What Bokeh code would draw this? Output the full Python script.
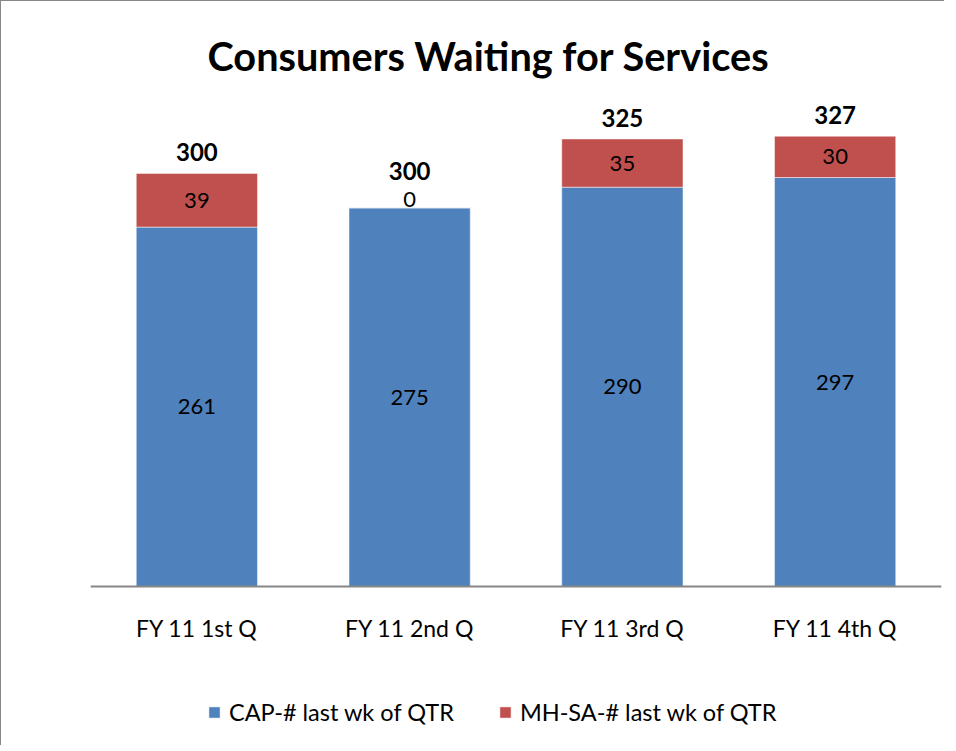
from bokeh.plotting import figure
from bokeh.models import ColumnDataSource, Legend, LegendItem, Range1d, FactorRange
from bokeh.core.properties import value
from bokeh.embed import file_html
from bokeh.resources import INLINE

# ---- data ----
categories = ["FY 11 1st Q", "FY 11 2nd Q", "FY 11 3rd Q", "FY 11 4th Q"]
cap = [261, 275, 290, 297]
mhsa = [39, 0, 35, 30]
total_labels = ["300", "300", "325", "327"]
series_names = ["CAP-# last wk of QTR", "MH-SA-# last wk of QTR"]
colors = ["#4F81BD", "#C0504D"]

FONT = "Lato"

top = [c + m for c, m in zip(cap, mhsa)]
src = ColumnDataSource(dict(
    x=categories,
    cap=cap,
    mhsa=mhsa,
    cap_mid=[c / 2 for c in cap],
    mh_mid=[c + m / 2 for c, m in zip(cap, mhsa)],
    top=top,
    cap_txt=[str(v) for v in cap],
    mh_txt=[str(v) for v in mhsa],
    tot_txt=total_labels,
    # a zero-height segment label is nudged up, and the total is pushed above it
    mh_off=[-8 if m == 0 else 0 for m in mhsa],
    tot_off=[-28 if m == 0 else -12 for m in mhsa],
))

p = figure(
    x_range=FactorRange(*categories),
    y_range=Range1d(-116, 350),
    width=944, height=745,
    output_backend="svg", toolbar_location=None,
    min_border_left=89, min_border_right=4,
    min_border_top=103, min_border_bottom=0,
)
p.styles = {"border-top": "1px solid #878787", "border-left": "1px solid #878787"}

p.title.text = "Consumers Waiting for Services"
p.title.text_font = FONT
p.title.text_font_style = "bold"
p.title.text_font_size = "39.7px"
p.title.text_color = "black"
p.title.align = "left"
p.title.offset = 117
p.title.standoff = 51

r1 = p.vbar(x="x", bottom=0, top="cap", width=0.57, source=src,
            fill_color=colors[0], line_color="white", line_alpha=0.5, line_width=1)
r2 = p.vbar(x="x", bottom="cap", top="top", width=0.57, source=src,
            fill_color=colors[1], line_color="white", line_alpha=0.5, line_width=1)

p.text(x="x", y="cap_mid", text="cap_txt", source=src, text_align="center",
       text_baseline="middle", text_font=value(FONT), text_font_size="22px", text_color="black")
p.text(x="x", y="mh_mid", text="mh_txt", source=src, text_align="center", y_offset="mh_off",
       text_baseline="middle", text_font=value(FONT), text_font_size="22px", text_color="black")
p.text(x="x", y="top", text="tot_txt", source=src, text_align="center", y_offset="tot_off",
       text_baseline="bottom", text_font=value(FONT), text_font_size="24px",
       text_font_style="bold", text_color="black")

p.yaxis.visible = False
p.xgrid.grid_line_color = None
p.ygrid.grid_line_color = None
p.outline_line_color = None

xa = p.xaxis[0]
xa.fixed_location = 0
xa.axis_line_color = "#868686"
xa.axis_line_width = 2
xa.major_tick_line_color = None
xa.minor_tick_line_color = None
xa.major_label_standoff = 21
xa.major_label_text_font = FONT
xa.major_label_text_font_size = "23px"
xa.major_label_text_color = "black"

legend = Legend(items=[LegendItem(label=series_names[0], renderers=[r1]),
                       LegendItem(label=series_names[1], renderers=[r2])],
                orientation="horizontal", location=(117, 20))
legend.label_text_font = FONT
legend.label_text_font_size = "23.5px"
legend.label_text_color = "black"
legend.glyph_width = 14
legend.glyph_height = 14
legend.label_standoff = 8
legend.spacing = 44
legend.border_line_color = None
legend.background_fill_alpha = 0
p.add_layout(legend)

open("out.html", "w").write(file_html(p, INLINE))
